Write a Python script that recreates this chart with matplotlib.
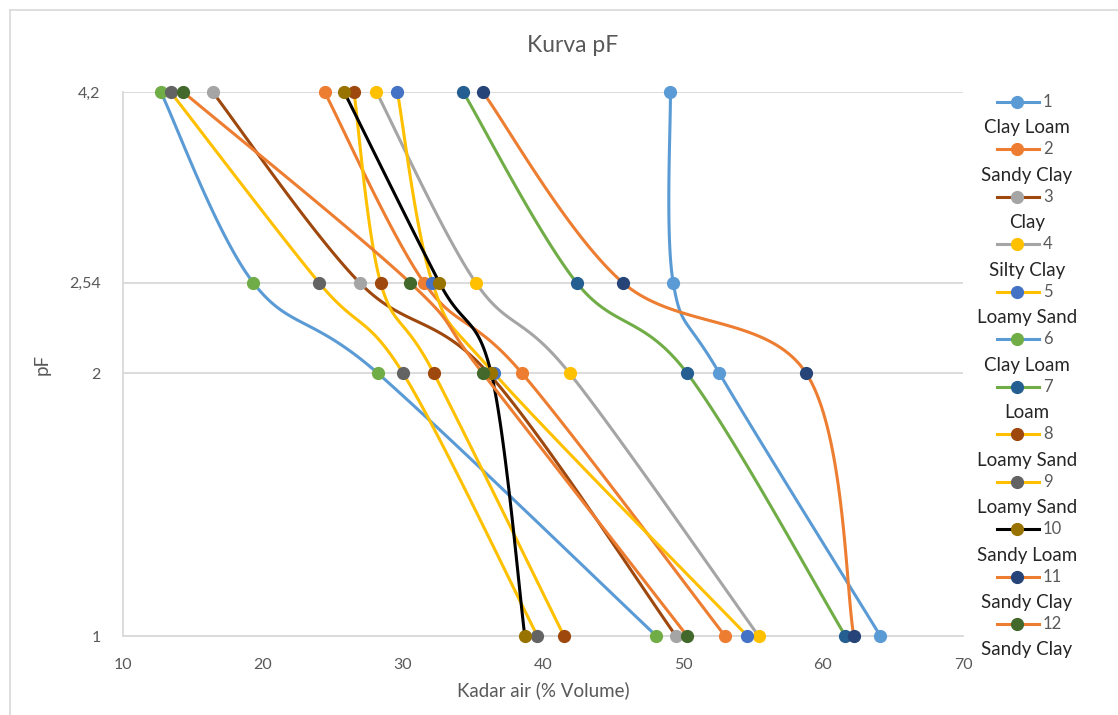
import matplotlib
matplotlib.use("Agg")
import matplotlib.pyplot as plt
from matplotlib.lines import Line2D
import numpy as np

plt.rcParams["font.family"] = ["Lato", "DejaVu Sans"]

W, H = 1118, 715
GRID, TXT, DARK = "#D9D9D9", "#595959", "#262626"

# pF levels, top to bottom (order of the points in each series)
pf = [4.2, 2.54, 2, 1]
pf_labels = ["4,2", "2,54", "2", "1"]

# water content (% volume) read at pF 4.2, 2.54, 2, 1
s1 = [49.1, 49.3, 52.6, 64.1]
s2 = [24.4, 31.5, 38.5, 53.0]
s3 = [16.4, 26.9, 36.1, 49.5]
s4 = [28.1, 35.2, 41.9, 55.4]
s5 = [29.6, 32.1, 36.5, 54.6]
s6 = [12.7, 19.3, 28.2, 48.1]
s7 = [34.3, 42.4, 50.3, 61.6]
s8 = [26.5, 28.4, 32.2, 41.5]
s9 = [13.4, 24.0, 30.0, 39.6]
s10 = [25.8, 32.6, 36.3, 38.7]
s11 = [35.7, 45.7, 58.8, 62.2]
s12 = [14.3, 30.5, 35.7, 50.3]
series = [s1, s2, s3, s4, s5, s6, s7, s8, s9, s10, s11, s12]
names = ["1", "2", "3", "4", "5", "6", "7", "8", "9", "10", "11", "12"]
soils = ["Clay Loam", "Sandy Clay", "Clay", "Silty Clay", "Loamy Sand", "Clay Loam",
         "Loam", "Loamy Sand", "Loamy Sand", "Sandy Loam", "Sandy Clay", "Sandy Clay"]

# line colour / marker colour per series (they differ in the original)
line_c = ["#5B9BD5", "#ED7D31", "#9E480E", "#A5A5A5", "#FFC000", "#5B9BD5",
          "#70AD47", "#FFC000", "#FFC000", "#000000", "#ED7D31", "#ED7D31"]
mark_c = ["#5B9BD5", "#ED7D31", "#A5A5A5", "#FFC000", "#4472C4", "#70AD47",
          "#255E91", "#9E480E", "#636363", "#997300", "#264478", "#43682B"]


def fx(px):
    return px / W


def fy(py):
    return 1 - py / H


def smooth(ax, xs, ys, n=40):
    """Excel-like bezier smoothing, done in display space."""
    P = ax.transData.transform(np.column_stack([xs, ys]))
    out = []
    t = np.linspace(0, 1, n)[:, None]
    for i in range(len(P) - 1):
        p0 = P[i - 1] if i > 0 else P[i]
        p1, p2 = P[i], P[i + 1]
        p3 = P[i + 2] if i + 2 < len(P) else P[i + 1]
        c1 = p1 + (p2 - p0) / 6
        c2 = p2 - (p3 - p1) / 6
        seg = ((1 - t) ** 3) * p1 + 3 * ((1 - t) ** 2) * t * c1 + 3 * (1 - t) * t ** 2 * c2 + t ** 3 * p2
        out.append(seg if i == 0 else seg[1:])
    D = ax.transData.inverted().transform(np.vstack(out))
    return D[:, 0], D[:, 1]


fig = plt.figure(figsize=(W / 100, H / 100), dpi=100)
ax = fig.add_axes([fx(123), fy(636), fx(963) - fx(123), fy(92) - fy(636)])
ax.set_yscale("log")
ax.set_xlim(10, 70)
ax.set_ylim(1, 4.2)
ax.set_xticks(range(10, 71, 10))
ax.set_yticks(pf)
ax.set_yticklabels(pf_labels)
ax.yaxis.set_minor_locator(matplotlib.ticker.NullLocator())
ax.tick_params(length=0, colors=TXT, labelsize=11.5, pad=16)
ax.tick_params(axis="x", pad=16)
ax.grid(axis="y", color=GRID, lw=1.3)
for k, sp in ax.spines.items():
    sp.set_visible(k in ("left", "bottom"))
    sp.set_color(GRID)
    sp.set_linewidth(1.3)

for i, ys in enumerate(series):
    sx, sy = smooth(ax, ys, pf)
    ax.plot(sx, sy, color=line_c[i], lw=2.2, zorder=3 + i, clip_on=False)
    ax.plot(ys, pf, "o", color=mark_c[i], ms=8.5, mec=mark_c[i], zorder=3 + i, clip_on=False)

fig.text(fx(573), fy(46), "Kurva pF", ha="center", va="center", fontsize=16.5, color=TXT)
fig.text(fx(543), fy(690), "Kadar air (% Volume)", ha="center", va="center", fontsize=13.5, color=TXT)
fig.text(fx(42), fy(364), "pF", ha="center", va="center", fontsize=13.5, color=TXT, rotation=90)

# legend, drawn by hand to keep Excel's two-line layout
y0, step = 102, 47.45
for i in range(12):
    yy = y0 + i * step
    fig.add_artist(Line2D([fx(997), fx(1039)], [fy(yy), fy(yy)], color=line_c[i], lw=2.2))
    fig.add_artist(Line2D([fx(1017)], [fy(yy)], marker="o", color=mark_c[i], ms=8.5, mec=mark_c[i]))
    fig.text(fx(1043), fy(yy), names[i], ha="left", va="center", fontsize=12, color=TXT)
    fig.text(fx(1027), fy(yy + 26), soils[i], ha="center", va="center", fontsize=13.5, color=DARK)

# chart-area border (top and left edges visible)
fig.add_artist(Line2D([fx(10), fx(10)], [fy(10), 0], color=GRID, lw=1.2))
fig.add_artist(Line2D([fx(10), 1], [fy(10), fy(10)], color=GRID, lw=1.2))

fig.savefig("out.png", dpi=100, facecolor="white")
